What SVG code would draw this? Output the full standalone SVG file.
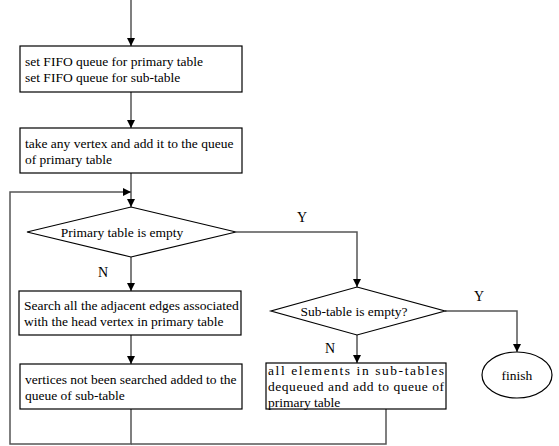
<svg xmlns="http://www.w3.org/2000/svg" width="559" height="446" viewBox="0 0 559 446">
  <defs>
    <marker id="arrow" viewBox="0 0 8 8" refX="8" refY="4" markerWidth="8" markerHeight="8" markerUnits="userSpaceOnUse" orient="auto">
      <path d="M0,0 L8,4 L0,8 z" fill="#000"/>
    </marker>
    <style>
      .box { fill: #fff; stroke: #000; stroke-width: 1.2; }
      .conn { fill: none; stroke: #555; stroke-width: 1.5; }
      .mid { text-anchor: middle; }
    </style>
  </defs>
  <rect width="559" height="446" fill="#fff"/>

  <g font-family="'Liberation Serif', 'Times New Roman', 'DejaVu Serif', serif" font-size="13.5" fill="#000">
  <!-- connectors -->
  <g id="connectors">
    <path class="conn" d="M131,0 V46" marker-end="url(#arrow)"/>
    <path class="conn" d="M131,92 V128" marker-end="url(#arrow)"/>
    <path class="conn" d="M131,173 V207" marker-end="url(#arrow)"/>
    <path class="conn" d="M131,257 V291" marker-end="url(#arrow)"/>
    <path class="conn" d="M131,335 V364" marker-end="url(#arrow)"/>
    <!-- loop back to the primary-table test -->
    <path class="conn" d="M131,409 V444 H10 V192 H131" marker-end="url(#arrow)"/>
    <path class="conn" d="M386,409 V444 H131"/>
    <!-- Y branch to sub-table test -->
    <path class="conn" d="M236,232 H357 V287" marker-end="url(#arrow)"/>
    <!-- Y branch to finish -->
    <path class="conn" d="M445,311 H517 V352" marker-end="url(#arrow)"/>
    <!-- N branch to dequeue -->
    <path class="conn" d="M357,335 V363" marker-end="url(#arrow)"/>
    <text x="302" y="222" class="mid" font-size="14">Y</text>
    <text x="479" y="301" class="mid" font-size="14">Y</text>
    <text x="103" y="277" class="mid" font-size="14">N</text>
    <text x="330" y="353" class="mid" font-size="14">N</text>
  </g>

  <g id="init-queues">
    <rect class="box" x="20" y="46" width="222" height="46"/>
    <text x="25" y="66">set FIFO queue for primary table</text>
    <text x="25" y="82">set FIFO queue for sub-table</text>
  </g>

  <g id="take-vertex">
    <rect class="box" x="20" y="128" width="222" height="45"/>
    <text x="25" y="148">take any vertex and add it to the queue</text>
    <text x="25" y="164">of primary table</text>
  </g>

  <g id="primary-empty">
    <polygon class="box" points="131,207 236,232 131,257 27,232"/>
    <text x="122" y="237" class="mid">Primary table is empty</text>
  </g>

  <g id="search-edges">
    <rect class="box" x="19" y="291" width="222" height="44"/>
    <text x="24" y="310">Search all the adjacent edges associated</text>
    <text x="24" y="326">with the head vertex in primary table</text>
  </g>

  <g id="enqueue-sub">
    <rect class="box" x="20" y="364" width="222" height="45"/>
    <text x="25" y="384">vertices not been searched added to the</text>
    <text x="25" y="400">queue of sub-table</text>
  </g>

  <g id="sub-empty">
    <polygon class="box" points="357,287 445,311 357,335 271,311"/>
    <text x="354" y="316" class="mid">Sub-table is empty?</text>
  </g>

  <g id="dequeue-sub">
    <rect class="box" x="266" y="363" width="180" height="46"/>
    <text x="268" y="375" textLength="176" lengthAdjust="spacing">all elements in sub-tables</text>
    <text x="268" y="391" textLength="176" lengthAdjust="spacing">dequeued and add to queue of</text>
    <text x="268" y="407">primary table</text>
  </g>

  <g id="finish">
    <ellipse class="box" cx="517" cy="375" rx="35" ry="23"/>
    <text x="517" y="380" class="mid">finish</text>
  </g>
  </g>
</svg>
